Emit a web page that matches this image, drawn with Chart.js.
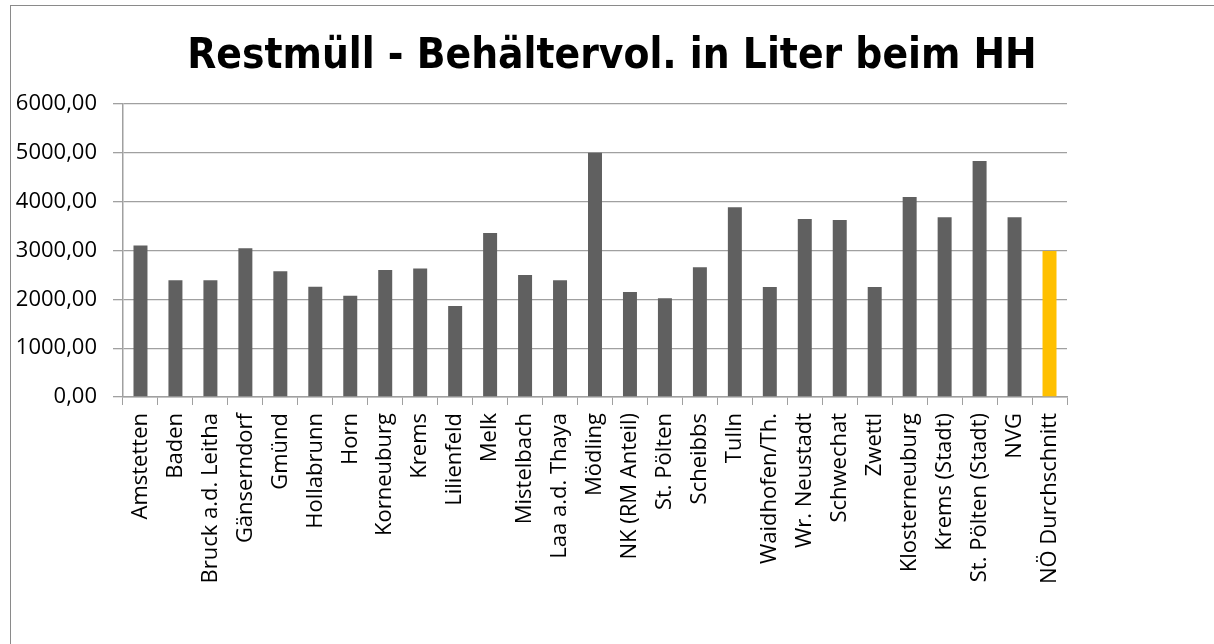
<!DOCTYPE html>
<html><head><meta charset="utf-8">
<script src="https://cdn.jsdelivr.net/npm/chart.js@4"></script>
<style>
html,body{margin:0;padding:0;background:#fff;}
#wrap{position:absolute;left:0;top:0;width:1214px;height:644px;}
#frame{position:absolute;left:10px;top:5px;width:1210px;height:650px;border-left:1.5px solid #8a8a8a;border-top:1.5px solid #8a8a8a;pointer-events:none;}
canvas{position:absolute;left:0;top:0;}
</style></head><body>
<div id="wrap"><canvas id="c" width="1214" height="644"></canvas><div id="frame"></div></div>
<script>
const titleText = 'Restmüll - Behältervol. in Liter beim HH';
const categories = ['Amstetten','Baden','Bruck a.d. Leitha','Gänserndorf','Gmünd','Hollabrunn','Horn','Korneuburg','Krems','Lilienfeld','Melk','Mistelbach','Laa a.d. Thaya','Mödling','NK (RM Anteil)','St. Pölten','Scheibbs','Tulln','Waidhofen/Th.','Wr. Neustadt','Schwechat','Zwettl','Klosterneuburg','Krems (Stadt)','St. Pölten (Stadt)','NVG','NÖ Durchschnitt'];
const values = [3100,2390,2390,3045,2575,2260,2075,2600,2630,1865,3360,2500,2390,5000,2150,2020,2655,3885,2255,3645,3625,2255,4095,3680,4835,3680,2990];
const highlight = ['NÖ Durchschnitt'];
const yTicks = [0,1000,2000,3000,4000,5000,6000];

const barColors = categories.map(c => highlight.includes(c) ? '#FFC000' : '#606060');
const tickFont = {family: "'Open Sans','Liberation Sans',sans-serif", size: 22};

new Chart(document.getElementById('c'), {
  type: 'bar',
  data: {labels: categories, datasets: [{data: values, backgroundColor: barColors, borderWidth: 0, barPercentage: 0.4, categoryPercentage: 1}]},
  options: {
    responsive: false, animation: false,
    layout: {padding: {left: 10, right: 0, top: 0, bottom: 0}},
    plugins: {
      legend: {display: false}, tooltip: {enabled: false},
      title: {display: true, text: titleText, color: '#000',
        font: {family: "'Liberation Sans Narrow','DejaVu Sans Condensed','Open Sans',sans-serif", size: 42, weight: 'bold', lineHeight: 1.2},
        padding: {top: 32, bottom: 21.6}}
    },
    scales: {
      x: {
        grid: {display: true, drawOnChartArea: false, offset: true, color: '#a0a0a0', tickLength: 8},
        border: {color: '#a0a0a0', width: 1.5},
        ticks: {autoSkip: false, minRotation: 90, maxRotation: 90, padding: 8, color: '#000', font: tickFont},
        afterFit: s => { s.height = 644 - 397; }
      },
      y: {
        min: 0, max: 6000,
        afterBuildTicks: s => { s.ticks = yTicks.map(v => ({value: v})); },
        grid: {color: '#a0a0a0', lineWidth: 1.3, tickLength: 10},
        border: {color: '#a0a0a0', width: 1.5},
        ticks: {padding: 16, color: '#000', font: tickFont, callback: v => v.toFixed(2).replace('.', ',')},
        afterFit: s => { s.width = 123 - 10; }
      },
      y2: {
        position: 'right', display: true,
        grid: {drawOnChartArea: false, drawTicks: false}, border: {display: false},
        ticks: {display: false},
        afterFit: s => { s.width = 1214 - 1067; }
      }
    }
  }
});
</script>
</body></html>
